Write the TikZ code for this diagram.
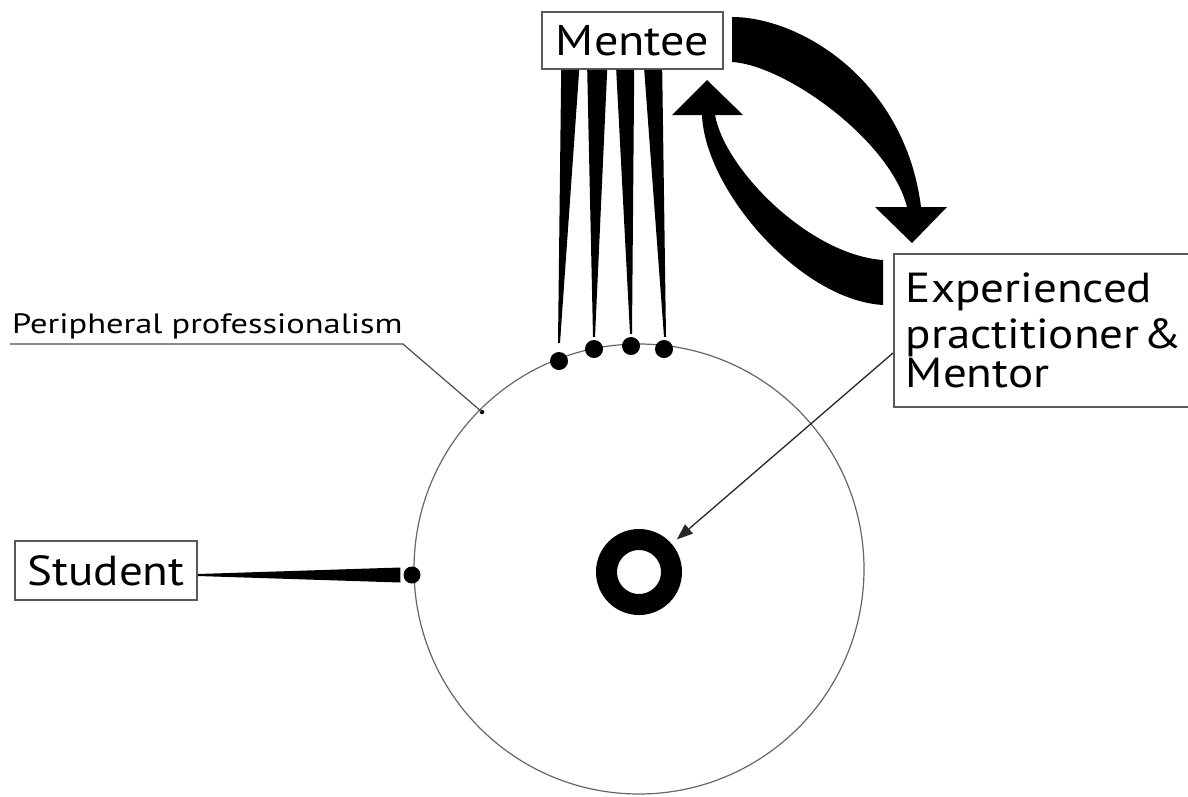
\documentclass[tikz,border=0pt]{standalone}
\usepackage{fontspec}
\setmainfont{PT Sans}[FakeStretch=1.12]
\newfontfamily\ppfont{PT Sans}[FakeStretch=1.23]
\usetikzlibrary{arrows.meta,calc}
\begin{document}
\begin{tikzpicture}[x=1pt,y=-1pt,
  box/.style={draw=black!65, line width=1.6pt, fill=white, inner sep=0pt},
  dot/.style={circle, fill=black, inner sep=0pt, minimum size=18pt},
  thinline/.style={draw=black!60, line width=1.2pt},
  band/.style={fill=black},
]
\useasboundingbox (0,0) rectangle (1188,796);
% outer circle
\node[circle, thinline, minimum size=450pt, inner sep=0pt] (outer) at (639,569) {};
% ring
\node[circle, draw=black, line width=21pt, minimum size=65pt, inner sep=0pt] (ring) at (639,572) {};
% dots on the circle
\node[dot] (d1) at (559,361) {};
\node[dot] (d2) at (594,349) {};
\node[dot] (d3) at (631,346) {};
\node[dot] (d4) at (664,349) {};
\node[dot, minimum size=17pt] (sd) at (412,575) {};
% boxes
\node[box, minimum width=181pt, minimum height=57pt] (mentee) at (632.5,40.5)
  {\fontsize{43}{50}\selectfont Mentee};
\node[box, minimum width=182pt, minimum height=59pt] (student) at (106,570.5)
  {\fontsize{42}{50}\selectfont Student};
\node[box, anchor=north west, minimum width=320pt, minimum height=153pt,
  inner xsep=12pt, text width=296pt, align=left] (exp) at (893,253)
  {\fontsize{42}{46.7}\selectfont Experienced\\practitioner \&\\Mentor};
% wedges from Mentee to the dots
\fill[band] ($(mentee.south west)+(20,0)$) -- ($(mentee.south west)+(38,0)$)
  -- ($(d1.north)+(1,-9)$) -- ($(d1.north)+(-1,-9)$) -- cycle;
\fill[band] ($(mentee.south west)+(46,0)$) -- ($(mentee.south west)+(66,0)$)
  -- ($(d2.north)+(1,-3)$) -- ($(d2.north)+(-1,-3)$) -- cycle;
\fill[band] ($(mentee.south west)+(75,0)$) -- ($(mentee.south west)+(93,0)$)
  -- ($(d3.north)+(1,-3)$) -- ($(d3.north)+(-1,-3)$) -- cycle;
\fill[band] ($(mentee.south west)+(103,0)$) -- ($(mentee.south west)+(121,0)$)
  -- ($(d4.north)+(2,-3)$) -- ($(d4.north)+(0,-3)$) -- cycle;
% wedge from Student to its dot
\fill[band] ($(student.east)+(0,3.5)$) -- ($(sd.west)+(-3,-7.5)$)
  -- ($(sd.west)+(-3,7.5)$) -- ($(student.east)+(0,5.5)$) -- cycle;
% curved arrow Mentee -> Experienced
\fill[band] (732,17) .. controls (800,17) and (905,80) .. (921,207)
  -- (947,207) -- (912,243) -- (875,207) -- (907,207)
  .. controls (890,140) and (785,65) .. (732,62) -- cycle;
% curved arrow Experienced -> Mentee
\fill[band] (883,260) .. controls (810,255) and (725,170) .. (715,115)
  -- (743,115) -- (707,80) -- (672,115) -- (702,115)
  .. controls (705,190) and (800,300) .. (883,305) -- cycle;
% arrow Experienced -> ring
\coordinate (es) at ($(exp.north west)+(0,100)$);
\draw[black!85, line width=1.3pt, -{Triangle[length=16pt,width=12pt]}]
  (es) -- ($(ring.center)!50pt!(es)$);
% Peripheral professionalism label
\node[anchor=base west, inner sep=0pt] (pp) at (12,333)
  {\ppfont\fontsize{28}{30}\selectfont Peripheral professionalism};
\node[circle, fill=black, inner sep=0pt, minimum size=4.5pt] (pdot) at (482,412) {};
\coordinate (ul0) at (10,344);
\coordinate (ul1) at (403,344);
\draw[black!70, line width=1.2pt] (ul0) -- (ul1) -- (pdot.center);
\end{tikzpicture}
\end{document}
